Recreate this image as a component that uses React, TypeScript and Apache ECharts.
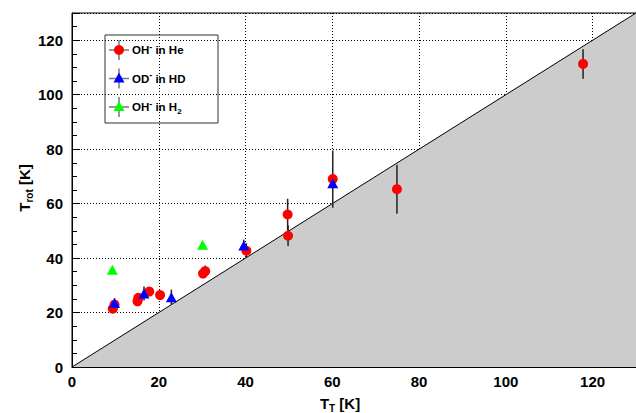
import React, { useEffect, useRef } from 'react';
import * as echarts from 'echarts';

// OH- in He (red circles)
const heX = [9.4, 9.8, 15.1, 15.3, 17.8, 20.3, 30.2, 30.7, 40.2, 49.8, 49.7, 60.1, 74.9, 117.8];
const heY = [21.4, 22.9, 24.1, 25.4, 27.7, 26.4, 34.3, 35.2, 42.7, 48.2, 56.0, 69.0, 65.3, 111.3];
const heErr = [0.8, 0.8, 0.8, 0.8, 0.8, 0.8, 0.8, 2.1, 2.7, 3.8, 5.8, 10.5, 9.0, 5.4];
// OD- in HD (blue triangles)
const hdX = [9.8, 16.6, 22.9, 39.6, 60.1];
const hdY = [23.5, 27.0, 25.6, 44.6, 67.5];
const hdErr = [1.8, 2.6, 2.8, 2.1, 0];
// OH- in H2 (green triangles)
const h2X = [9.3, 30.1];
const h2Y = [35.7, 44.9];
// axis ticks
const xTicks = [0, 20, 40, 60, 80, 100, 120];
const yTicks = [0, 20, 40, 60, 80, 100, 120];
const axisMax = 130;

const FONT = 'Liberation Sans, Arial, Helvetica, sans-serif';

export default function App() {
  const ref = useRef<HTMLDivElement>(null);
  useEffect(() => {
    if (!ref.current) return;
    const chart = echarts.init(ref.current, undefined, { renderer: 'svg' });
    const pts = (xs: number[], ys: number[]) => xs.map((x, i) => [x, ys[i]]);
    const errs = (xs: number[], ys: number[], es: number[]) =>
      xs.map((x, i) => [x, ys[i] - es[i], ys[i] + es[i]]).filter((_, i) => es[i] > 0);
    const errData = [...errs(heX, heY, heErr), ...errs(hdX, hdY, hdErr)];

    const rich = {
      b: { fontSize: 11.5, fontWeight: 'bold', fontFamily: FONT, lineHeight: 16, verticalAlign: 'middle' },
      sup: { fontSize: 9, fontWeight: 'bold', fontFamily: FONT, lineHeight: 16, verticalAlign: 'top' },
      sub: { fontSize: 8, fontWeight: 'bold', fontFamily: FONT, lineHeight: 16, verticalAlign: 'bottom' },
    };
    const titleRich = {
      b: { fontSize: 15, fontWeight: 'bold', fontFamily: FONT, lineHeight: 20, verticalAlign: 'middle' },
      sub: { fontSize: 10, fontWeight: 'bold', fontFamily: FONT, lineHeight: 20, verticalAlign: 'bottom' },
    };

    const legendRows = [
      { text: '{b|OH}{sup|-}{b| in He}', color: '#ff0000', tri: false },
      { text: '{b|OD}{sup|-}{b| in HD}', color: '#0000ff', tri: true },
      { text: '{b|OH}{sup|-}{b| in H}{sub|2}', color: '#00ff00', tri: true },
    ];
    const lx = 119;
    const rowY = [50, 78.5, 107];
    const legendEls: any[] = [
      { type: 'rect', shape: { x: 105, y: 35, width: 113, height: 88 }, style: { fill: '#fff', stroke: '#333', lineWidth: 1 } },
    ];
    legendRows.forEach((r, i) => {
      const y = rowY[i];
      legendEls.push({ type: 'line', shape: { x1: lx - 10, y1: y, x2: lx + 10, y2: y }, style: { stroke: '#777', lineWidth: 1.5 } });
      legendEls.push({ type: 'line', shape: { x1: lx, y1: y - 10, x2: lx, y2: y + 10 }, style: { stroke: '#777', lineWidth: 1.5 } });
      if (r.tri) {
        legendEls.push({ type: 'polygon', shape: { points: [[lx, y - 6], [lx - 5.5, y + 4], [lx + 5.5, y + 4]] }, style: { fill: r.color } });
      } else {
        legendEls.push({ type: 'circle', shape: { cx: lx, cy: y, r: 5 }, style: { fill: r.color } });
      }
      legendEls.push({
        type: 'text', x: 132, y: y,
        style: { text: r.text, rich, fill: '#000', textAlign: 'left', textVerticalAlign: 'middle', align: 'left', verticalAlign: 'middle' },
      });
    });

    chart.setOption({
      animation: false,
      grid: { left: 72, top: 13, width: 572, height: 354, show: true, borderColor: '#000', borderWidth: 1, backgroundColor: 'transparent' },
      xAxis: {
        type: 'value', min: 0, max: axisMax, interval: 20,
        axisLine: { show: true, lineStyle: { color: '#000', width: 1 } },
        axisTick: { show: false },
        axisLabel: {
          color: '#000', fontSize: 15, fontWeight: 'bold', fontFamily: FONT, margin: 7, showMaxLabel: false,
          formatter: (v: number) => (xTicks.includes(v) ? String(v) : ''),
        },
        splitLine: { show: true, lineStyle: { color: '#000', type: [1, 2], width: 1 } },
      },
      yAxis: {
        type: 'value', min: 0, max: axisMax, interval: 20,
        axisLine: { show: true, lineStyle: { color: '#000', width: 1 } },
        axisTick: { show: true, inside: true, length: 8, lineStyle: { color: '#000' } },
        minorTick: { show: true, splitNumber: 4, length: 5, lineStyle: { color: '#000' } },
        axisLabel: {
          color: '#000', fontSize: 15, fontWeight: 'bold', fontFamily: FONT, margin: 9, showMaxLabel: false,
          formatter: (v: number) => (yTicks.includes(v) ? String(v) : ''),
        },
        splitLine: { show: true, lineStyle: { color: '#000', type: [1, 2], width: 1 } },
      },
      graphic: [
        ...legendEls,
        {
          type: 'text', x: 24, y: 188, rotation: Math.PI / 2,
          style: { text: '{b|T}{sub|rot}{b| [K]}', rich: titleRich, fill: '#000', textAlign: 'center', textVerticalAlign: 'middle', align: 'center', verticalAlign: 'middle' },
        },
        {
          type: 'text', x: 340, y: 403,
          style: { text: '{b|T}{sub|T}{b| [K]}', rich: titleRich, fill: '#000', textAlign: 'center', textVerticalAlign: 'middle', align: 'center', verticalAlign: 'middle' },
        },
      ],
      series: [
        {
          type: 'line', data: [[0, 0], [axisMax, axisMax]], symbol: 'none', z: 2,
          lineStyle: { color: '#000', width: 1 },
          areaStyle: { color: '#cccccc', opacity: 1 },
          silent: true,
        },
        {
          type: 'custom', z: 3, data: errData,
          encode: { x: 0, y: [1, 2] },
          renderItem: (params: any, api: any) => {
            const x = api.value(0);
            const p1 = api.coord([x, api.value(1)]);
            const p2 = api.coord([x, api.value(2)]);
            return { type: 'line', shape: { x1: p1[0], y1: p1[1], x2: p2[0], y2: p2[1] }, style: { stroke: '#222', lineWidth: 1.5 } };
          },
        },
        { type: 'scatter', z: 4, name: 'OH- in H2', data: pts(h2X, h2Y), symbol: 'triangle', symbolSize: [11, 10], itemStyle: { color: '#00ff00', opacity: 1 } },
        { type: 'scatter', z: 5, name: 'OH- in He', data: pts(heX, heY), symbol: 'circle', symbolSize: 10, itemStyle: { color: '#ff0000', opacity: 1 } },
        { type: 'scatter', z: 6, name: 'OD- in HD', data: pts(hdX, hdY), symbol: 'triangle', symbolSize: [11, 10], itemStyle: { color: '#0000ff', opacity: 1 } },
      ],
    });
    return () => chart.dispose();
  }, []);
  return <div ref={ref} style={{ position: 'fixed', left: 0, top: 0, width: 636, height: 413, background: '#fff' }} />;
}
